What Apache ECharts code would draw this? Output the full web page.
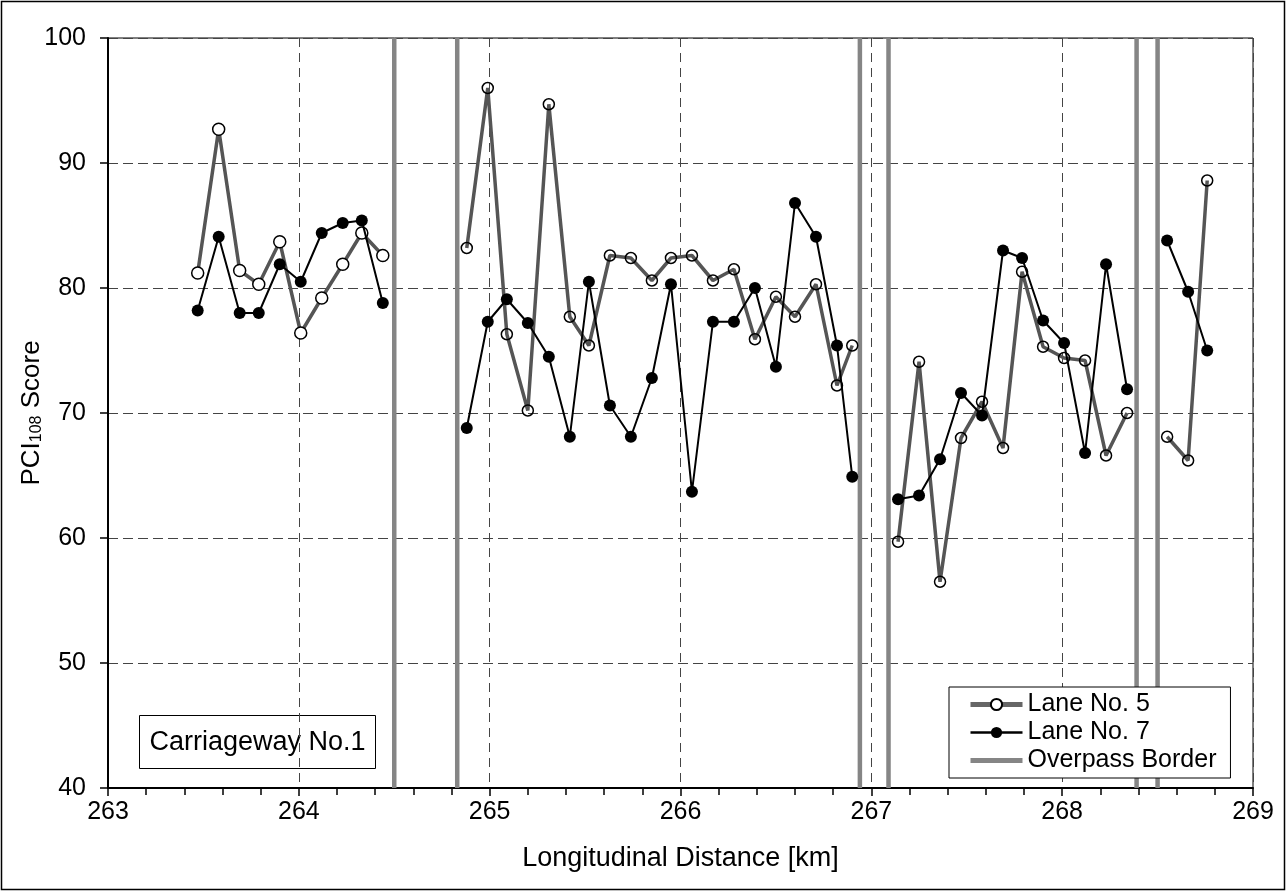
<!DOCTYPE html>
<html>
<head>
<meta charset="utf-8">
<script src="https://cdn.jsdelivr.net/npm/echarts@6/dist/echarts.min.js"></script>
<style>
html,body{margin:0;padding:0;background:#fff;}
#chart{width:1287px;height:892px;}
</style>
</head>
<body>
<div id="chart"></div>
<script>
// ---- data (km positions and PCI108 scores) ----
const seg1Km = [263.47, 263.58, 263.69, 263.79, 263.90, 264.01, 264.12, 264.23, 264.33, 264.44];
const seg1Lane5 = [81.2, 92.7, 81.4, 80.3, 83.7, 76.4, 79.2, 81.9, 84.4, 82.6];
const seg1Lane7 = [78.2, 84.1, 78.0, 78.0, 81.9, 80.5, 84.4, 85.2, 85.4, 78.8];

const seg2Km = [264.88, 264.99, 265.09, 265.20, 265.31, 265.42, 265.52, 265.63, 265.74, 265.85,
                265.95, 266.06, 266.17, 266.28, 266.39, 266.50, 266.60, 266.71, 266.82, 266.90];
const seg2Lane5 = [83.2, 96.0, 76.3, 70.2, 94.7, 77.7, 75.4, 82.6, 82.4, 80.6,
                   82.4, 82.6, 80.6, 81.5, 75.9, 79.3, 77.7, 80.3, 72.2, 75.4];
const seg2Lane7 = [68.8, 77.3, 79.1, 77.2, 74.5, 68.1, 80.5, 70.6, 68.1, 72.8,
                   80.3, 63.7, 77.3, 77.3, 80.0, 73.7, 86.8, 84.1, 75.4, 64.9];

const seg3Km = [267.14, 267.25, 267.36, 267.47, 267.58, 267.69, 267.79, 267.90, 268.01, 268.12, 268.23, 268.34];
const seg3Lane5 = [59.7, 74.1, 56.5, 68.0, 70.9, 67.2, 81.3, 75.3, 74.4, 74.2, 66.6, 70.0];
const seg3Lane7 = [63.1, 63.4, 66.3, 71.6, 69.8, 83.0, 82.4, 77.4, 75.6, 66.8, 81.9, 71.9];

const seg4Km = [268.55, 268.66, 268.76];
const seg4Lane5 = [68.1, 66.2, 88.6];
const seg4Lane7 = [83.8, 79.7, 75.0];

const overpassKm = [264.50, 264.83, 266.94, 267.09, 268.39, 268.50];
const yRange = [40, 100];

const xTicks = [263, 264, 265, 266, 267, 268, 269];
const yTicks = [40, 50, 60, 70, 80, 90, 100];

// ---- build series ----
const FONT = '"Liberation Sans", Arial, Helvetica, sans-serif';
const segments = [
  {km: seg1Km, l5: seg1Lane5, l7: seg1Lane7, fill: '#fff', size: 12},
  {km: seg2Km, l5: seg2Lane5, l7: seg2Lane7, fill: 'rgba(255,255,255,0)', size: 11},
  {km: seg3Km, l5: seg3Lane5, l7: seg3Lane7, fill: 'rgba(255,255,255,0)', size: 11},
  {km: seg4Km, l5: seg4Lane5, l7: seg4Lane7, fill: 'rgba(255,255,255,0)', size: 11}
];
const zip = (xs, ys) => xs.map((x, i) => [x, ys[i]]);

const series = [];
overpassKm.forEach(k => {
  series.push({
    name: 'Overpass Border', type: 'line', symbol: 'none', z: 1,
    data: [[k, yRange[0]], [k, yRange[1]]],
    lineStyle: {color: '#858585', width: 4.5},
    itemStyle: {color: '#858585'},
    silent: true, animation: false
  });
});
segments.forEach(s => {
  series.push({
    name: 'Lane No. 5', type: 'line', z: 3,
    data: zip(s.km, s.l5),
    symbol: 'circle', symbolSize: s.size,
    lineStyle: {color: '#555555', width: 3.5},
    itemStyle: {color: s.fill, borderColor: '#000', borderWidth: 1.5},
    animation: false
  });
});
segments.forEach(s => {
  series.push({
    name: 'Lane No. 7', type: 'line', z: 4,
    data: zip(s.km, s.l7),
    symbol: 'circle', symbolSize: 12,
    lineStyle: {color: '#000', width: 2},
    itemStyle: {color: '#000', borderColor: '#000', borderWidth: 0},
    animation: false
  });
});

const chart = echarts.init(document.getElementById('chart'), null, {renderer: 'canvas'});
chart.setOption({
  backgroundColor: '#fff',
  animation: false,
  textStyle: {fontFamily: FONT},
  grid: {left: 108, right: 34, top: 38, bottom: 104, show: true, borderColor: '#000', borderWidth: 1, backgroundColor: 'transparent'},
  legend: {
    data: [
      {name: 'Lane No. 5', lineStyle: {width: 5, color: '#666'}},
      {name: 'Lane No. 7', lineStyle: {width: 2.5, color: '#000'}},
      {name: 'Overpass Border', itemStyle: {opacity: 0}, lineStyle: {width: 5, color: '#858585'}}
    ],
    orient: 'vertical',
    left: 949, top: 687,
    itemWidth: 52, itemHeight: 14, itemGap: 3,
    padding: [5, 14, 5, 19],
    backgroundColor: '#fff', borderColor: '#000', borderWidth: 1,
    textStyle: {fontSize: 25, color: '#000', fontFamily: FONT},
    selectedMode: false
  },
  xAxis: {
    type: 'value', min: xTicks[0], max: xTicks[xTicks.length - 1], interval: 1,
    name: 'Longitudinal Distance [km]', nameLocation: 'middle', nameGap: 57,
    nameMoveOverlap: false,
    nameTextStyle: {fontSize: 27, color: '#000', fontFamily: FONT},
    axisLine: {show: true, onZero: false, lineStyle: {color: '#000', width: 2}},
    axisTick: {show: true, inside: false, length: 8, lineStyle: {color: '#000', width: 1.5}},
    minorTick: {show: true, splitNumber: 5, length: 7, lineStyle: {color: '#000', width: 1.5}},
    axisLabel: {fontSize: 25, color: '#000', margin: 12, fontFamily: FONT},
    splitLine: {show: true, lineStyle: {color: '#444', width: 1, type: [9, 6]}}
  },
  yAxis: {
    type: 'value', min: yTicks[0], max: yTicks[yTicks.length - 1], interval: 10,
    name: '{a|PCI}{s|108}{a| Score}', nameLocation: 'middle', nameGap: 63, nameRotate: 90,
    nameMoveOverlap: false,
    nameTextStyle: {
      color: '#000', fontFamily: FONT,
      rich: {
        a: {fontSize: 26, color: '#000', fontFamily: FONT, verticalAlign: 'bottom', lineHeight: 28},
        s: {fontSize: 16, color: '#000', fontFamily: FONT, verticalAlign: 'bottom', lineHeight: 12}
      }
    },
    axisLine: {show: true, onZero: false, lineStyle: {color: '#000', width: 2}},
    axisTick: {show: true, inside: false, length: 8, lineStyle: {color: '#000', width: 1.5}},
    axisLabel: {fontSize: 25, color: '#000', margin: 22, fontFamily: FONT},
    splitLine: {show: true, lineStyle: {color: '#444', width: 1, type: [10, 5]}}
  },
  graphic: [
    {type: 'rect', z: 100, silent: true,
     shape: {x: 1.5, y: 1.5, width: 1283, height: 888},
     style: {fill: 'none', stroke: '#000', lineWidth: 1.5}},
    {type: 'group', left: 139, top: 715, z: 100, children: [
      {type: 'rect', shape: {x: 0, y: 0, width: 236, height: 53},
       style: {fill: '#fff', stroke: '#000', lineWidth: 1}},
      {type: 'text', x: 118, y: 27,
       style: {text: 'Carriageway No.1', fill: '#000', font: '27px ' + FONT, align: 'center', verticalAlign: 'middle'}}
    ]}
  ],
  series: series
});
</script>
</body>
</html>
